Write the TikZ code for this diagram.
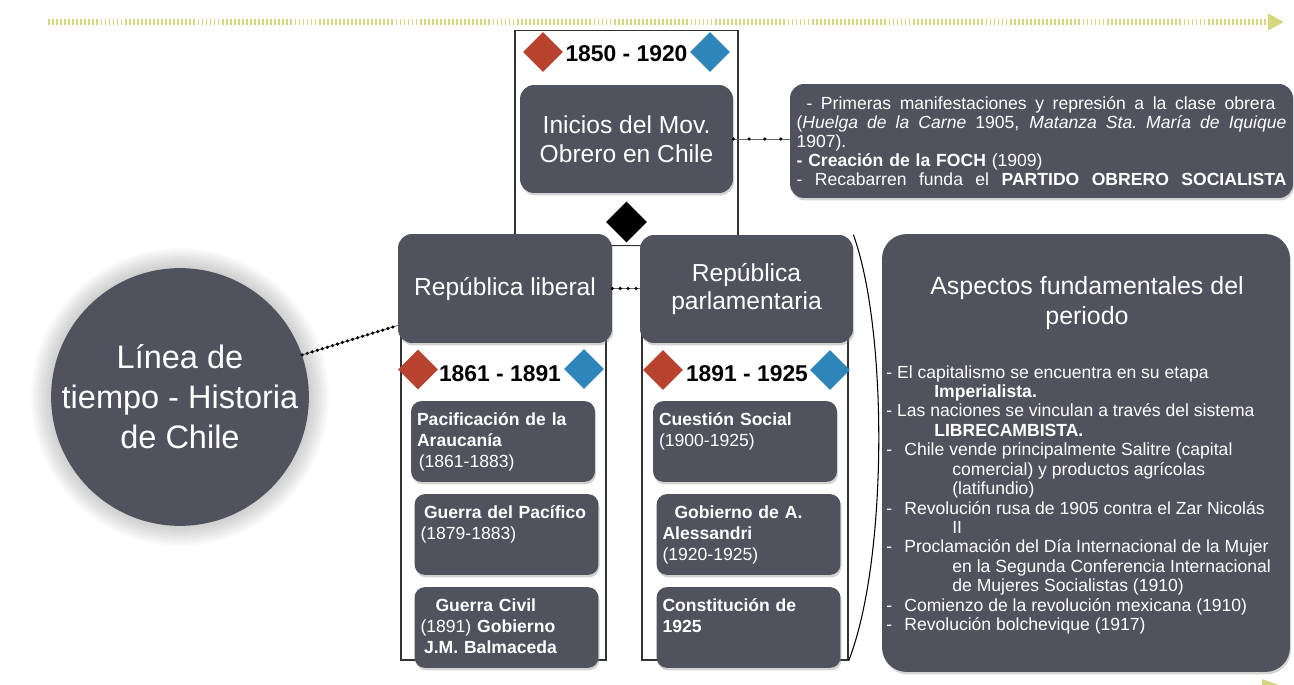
\documentclass[tikz,border=0pt]{standalone}
\usepackage{fontspec}
\setmainfont{Liberation Sans}
\usepackage{tikz}
\usepackage{xcolor}
\usetikzlibrary{calc}
\usetikzlibrary{shapes.geometric}
\usetikzlibrary{arrows.meta, shadows, positioning}
\setlength{\parindent}{0pt}

\definecolor{slate}{RGB}{80,83,94}
\definecolor{flagred}{RGB}{183,66,46}
\definecolor{flagblue}{RGB}{45,133,186}
\definecolor{lineyellow}{RGB}{214,214,128}

\newcommand{\spreadline}[2]{\makebox[#1][s]{\spaceskip=0.278em plus 1fil\relax #2}}

\tikzset{
	gbox/.style={rectangle, rounded corners=#1, fill=slate, text=white, inner sep=0pt,
		drop shadow={shadow xshift=0.6pt, shadow yshift=-1.4pt, opacity=0.35}},
	gbox/.default=7pt,
	frame/.style={rectangle, draw=black!80, line width=0.8pt, fill=white, inner sep=0pt,
		drop shadow={shadow xshift=0.6pt, shadow yshift=-0.6pt, opacity=0.2}},
	flag/.style={diamond, fill=#1, minimum size=0.8cm, inner sep=0pt},
	yearlbl/.style={inner sep=0pt, font=\bfseries\fontsize{13}{15}\selectfont},
	ebox/.style={gbox=6pt, text width=3.44cm, inner xsep=0.12cm, inner ysep=0.17cm, align=left,
		text height=9pt, text depth=0.96cm, font=\fontsize{10}{12}\selectfont},
	dotlink/.style={draw=black!60, line width=0.5pt,
		postaction={draw=black, line width=2pt, line cap=round, dash pattern=on 0pt off #1}},
	dotlink/.default=9pt,
	timeline/.style={draw=lineyellow, line width=3pt, dash pattern=on 1pt off 1.3pt,
		-{Triangle[length=9pt,width=9pt]}}
}

\begin{document}
\begin{tikzpicture}[x=0.02cm, y=-0.02cm]
		\newcommand{\bigFont}{\fontsize{14}{16.5}\selectfont}
		\newcommand{\listFont}{\fontsize{10}{11.06}\selectfont}
		
		\useasboundingbox (0,0) rectangle (1294,685);		% page
		
		% time line on top
		\coordinate (tlstart) at (48,22);
		\coordinate (tlend) at (1284,22);
		\draw[timeline] (tlstart) -- (tlend);
		\fill[lineyellow] (1262,679) -- (1279,685) -- (1262,685) -- cycle;	% lower arrow, cut off
		
		% frames
		\node[frame, minimum width=4.46cm, minimum height=4.3cm] (topfr) at (626.5,138) {};
		\node[frame, minimum width=4.1cm, minimum height=6.6cm] (leftfr) at (503.5,495) {};
		\node[frame, minimum width=4.12cm, minimum height=6.6cm] (rightfr) at (745,495) {};
		
		% main circle with soft glow
		\coordinate (circc) at (180,397);
		\foreach \r in {1,3,...,21}
			\fill[black, opacity=0.018] (circc) circle (128+\r);
		\node[circle, fill=slate, text=white, minimum size=5.12cm, inner sep=0pt, align=center,
			font=\fontsize{18.5}{22.7}\selectfont]
			(circ) at (circc) {Línea de\\tiempo - Historia\\de Chile};
		
		% 1850 - 1920
		\node[flag=flagred] (red0) at (543,52) {};
		\node[flag=flagblue] (blue0) at (710,52) {};
		\node[yearlbl] (year0) at (626.5,54) {1850 - 1920};
		\node[gbox=8pt, minimum width=4.26cm, minimum height=2.16cm, align=center, font=\bigFont]
			(ini) at (626.5,139) {Inicios del Mov.\\Obrero en Chile};
		
		\node[gbox=8pt, text width=9.8cm, inner xsep=0.13cm, minimum height=2.28cm, align=left,
			font=\fontsize{10}{10.8}\selectfont] (info) at (1041.5,141)
			{\hspace*{0.2cm}\spreadline{9.38cm}{- Primeras manifestaciones y represión a la clase obrera}\\
			\spreadline{9.8cm}{(\textit{Huelga de la Carne} 1905, \textit{Matanza Sta.\ María de Iquique}}\\
			1907).\\
			\textbf{- Creación de la FOCH} (1909)\\
			\spreadline{9.8cm}{- Recabarren funda el \textbf{PARTIDO OBRERO SOCIALISTA}}};
		
		% the two republics
		\node[gbox=8pt, minimum width=4.28cm, minimum height=2.18cm, align=center, font=\bigFont]
			(lib) at (505,288.5) {República liberal};
		\node[gbox=8pt, minimum width=4.26cm, minimum height=2.16cm, align=center, font=\bigFont]
			(parl) at (746.5,289) {República\\parlamentaria};
		\node[diamond, fill=black, minimum size=0.82cm, inner sep=0pt] (mid) at (626.5,222) {};
		
		% 1861 - 1891
		\node[flag=flagred] (red1) at (418,369.5) {};
		\node[flag=flagblue] (blue1) at (584,369) {};
		\node[yearlbl] (year1) at (500,374) {1861 - 1891};
		\node[ebox] (paci) at (503,441.5) {\textbf{Pacificación de la}\\\textbf{Araucanía}\\\hspace*{1pt}(1861-1883)};
		\node[ebox] (pacif) at (506.5,534.5) {\hspace*{2pt}\textbf{Guerra del Pacífico}\\(1879-1883)};
		\node[ebox] (civil) at (506.5,627.5) {\hspace*{0.3cm}\textbf{Guerra Civil}\\(1891) \textbf{Gobierno}\\\hspace*{2pt}\textbf{J.M. Balmaceda}};
		
		% 1891 - 1925
		\node[flag=flagred] (red2) at (663,370) {};
		\node[flag=flagblue] (blue2) at (830,370) {};
		\node[yearlbl] (year2) at (747,374) {1891 - 1925};
		\node[ebox] (social) at (745,441.5) {\textbf{Cuestión Social}\\(1900-1925)};
		\node[ebox] (aless) at (748.5,534.5) {\hspace*{0.24cm}\textbf{Gobierno de A.}\\\textbf{Alessandri}\\(1920-1925)};
		\node[ebox] (const) at (748.5,627.5) {\textbf{Constitución de}\\\textbf{1925}};
		
		% aspects of the period
		\node[gbox=14pt, minimum width=8.16cm, minimum height=8.76cm] (asp) at (1086,453) {};
		\node[text=white, align=center, inner sep=0pt, font=\fontsize{14.2}{17}\selectfont]
			(asptitle) at (1087,303) {Aspectos fundamentales del\\periodo};
		\node[text=white, align=left, inner sep=0pt, anchor=north west, font=\listFont] (asplist) at (886,365)
			{- El capitalismo se encuentra en su etapa\\
			\hspace*{0.96cm}\textbf{Imperialista.}\\
			- Las naciones se vinculan a través del sistema\\
			\hspace*{0.96cm}\textbf{LIBRECAMBISTA.}\\
			\makebox[0.36cm][l]{-}Chile vende principalmente Salitre (capital\\
			\hspace*{1.32cm}comercial) y productos agrícolas\\
			\hspace*{1.32cm}(latifundio)\\
			\makebox[0.36cm][l]{-}Revolución rusa de 1905 contra el Zar Nicolás\\
			\hspace*{1.32cm}II\\
			\makebox[0.36cm][l]{-}Proclamación del Día Internacional de la Mujer\\
			\hspace*{1.32cm}en la Segunda Conferencia Internacional\\
			\hspace*{1.32cm}de Mujeres Socialistas (1910)\\
			\makebox[0.36cm][l]{-}Comienzo de la revolución mexicana (1910)\\
			\makebox[0.36cm][l]{-}Revolución bolchevique (1917)};
		
		% connectors
		\draw[dotlink=3pt] (circ.19) -- (lib.199);
		\draw[dotlink=4.5pt] (lib.east) -- (lib.east -| parl.west);
		\draw[dotlink] (ini.east) -- (ini.east -| info.west);
		\draw[black, line width=0.6pt] (parl.north east) .. controls (888,330) and (888,560) .. (rightfr.south east);	% brace
\end{tikzpicture}
\end{document}
